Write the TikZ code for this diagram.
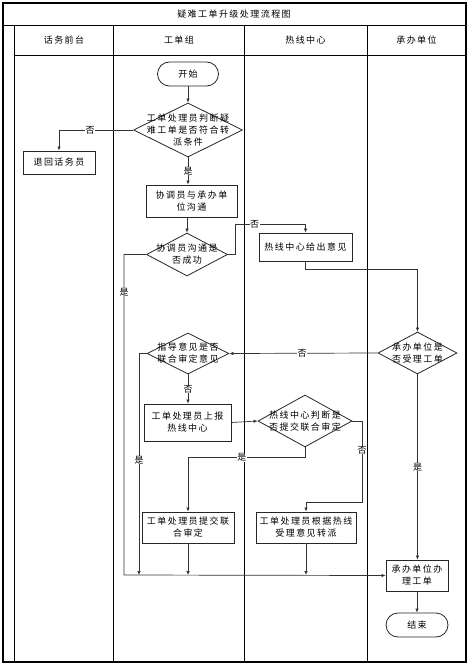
\documentclass[tikz,border=0pt]{standalone}
\usepackage{fontspec}
\newfontfamily\cjk{Noto Sans CJK SC}[LetterSpace=16]
\usetikzlibrary{shapes.geometric,arrows.meta,calc}
\begin{document}
\begin{tikzpicture}[x=1pt,y=-1pt,
  every node/.style={font=\cjk\fontsize{9}{12}\selectfont},
  frame/.style={line width=1.1pt,black},
  lane/.style={line width=0.9pt,black},
  proc/.style={draw=black!85,line width=0.8pt,rectangle,inner sep=0pt,align=center},
  term/.style={draw=black!85,line width=0.8pt,rectangle,rounded corners=12pt,inner sep=0pt,align=center},
  dec/.style={draw=black!85,line width=0.8pt,diamond,inner sep=0pt},
  dtext/.style={inner sep=0pt,align=center},
  conn/.style={draw=black!80,line width=0.7pt},
  arr/.style={conn,-{Latex[length=4pt,width=3.5pt]}},
  lab/.style={fill=white,inner sep=0.5pt}]
\useasboundingbox (0,0) rectangle (471,666);
% frame
\draw[frame] (3,3) rectangle (466,662);
\draw[lane] (3,25) -- (466,25);
\draw[lane] (14.7,25) -- (14.7,662);
\draw[lane] (14.7,55) -- (466,55);
\draw[lane] (113,25) -- (113,662);
\draw[lane] (244,25) -- (244,662);
\draw[lane] (367,25) -- (367,662);
\node (title) at (234,14) {疑难工单升级处理流程图};
\node (h1) at (64,40) {话务前台};
\node (h2) at (179,40) {工单组};
\node (h3) at (305.5,40) {热线中心};
\node (h4) at (416.5,40) {承办单位};
% nodes
\node[term,minimum width=61pt,minimum height=24pt] (start) at (188,74) {开始};
\node[dec,minimum width=109pt,minimum height=54pt] (d1) at (188,130) {};
\node[dtext] (d1t) at (d1) {工单处理员判断疑\\难工单是否符合转\\派条件};
\node[proc,minimum width=72pt,minimum height=23pt] (r1) at (59,162.5) {退回话务员};
\node[proc,minimum width=91pt,minimum height=32pt] (b1) at (191.5,201) {协调员与承办单\\位沟通};
\node[dec,minimum width=81pt,minimum height=43pt] (d2) at (187,254.5) {};
\node[dtext] (d2t) at (d2) {协调员沟通是\\否成功};
\node[proc,minimum width=93pt,minimum height=28pt] (b2) at (305.5,247) {热线中心给出意见};
\node[dec,minimum width=79pt,minimum height=42pt] (d3) at (417.5,353) {};
\node[dtext] (d3t) at (d3) {承办单位是\\否受理工单};
\node[dec,minimum width=82pt,minimum height=41pt] (d4) at (188,353.5) {};
\node[dtext] (d4t) at (d4) {指导意见是否\\联合审定意见};
\node[proc,minimum width=87pt,minimum height=37pt] (b3) at (187.5,422.5) {工单处理员上报\\热线中心};
\node[dec,minimum width=94pt,minimum height=52pt] (d5) at (305,421) {};
\node[dtext] (d5t) at (d5) {热线中心判断是\\否提交联合审定};
\node[proc,minimum width=92pt,minimum height=31pt] (b4) at (188,527.5) {工单处理员提交联\\合审定};
\node[proc,minimum width=100pt,minimum height=31pt] (b5) at (306,527.5) {工单处理员根据热线\\受理意见转派};
\node[proc,minimum width=62pt,minimum height=31pt] (b7) at (417,575.5) {承办单位办\\理工单};
\node[term,minimum width=62pt,minimum height=24pt] (end) at (417,625) {结束};
% helper coordinates
\coordinate (c1) at (235,224);
\coordinate (c2) at (124,575);
\coordinate (c3) at (139,575);
\coordinate (c4) at (188,575);
\coordinate (c5) at (306,575);
\coordinate (c6) at (362,502);
% connectors
\draw[arr] (start.south) -- (d1.north);
\draw[arr] (d1.west) -| (r1.north) node[lab,pos=0.29] {否};
\draw[arr] (d1.south) -- (d1.south |- b1.north) node[lab,midway] {是};
\draw[arr] (b1.south -| d2.north) -- (d2.north);
\draw[arr] (d2.east) -| (c1) -| (b2.north) node[lab,pos=0.14] {否};
\draw[arr] (b2.south) -- ++(0,8) -| (d3.north);
\draw[arr] (d3.west) -- (d4.east) node[lab,pos=0.51] {否};
\draw[arr] (d2.west) -| (c2) -- (b7.west);
\node[lab] (l1) at (124,292) {是};
\draw[arr] (d4.west) -| (c3);
\node[lab] (l2) at (139,460) {是};
\draw[arr] (d4.south) -- (d4.south |- b3.north) node[lab,midway] {否};
\draw[arr] (b3.east) -- (d5.west);
\draw[arr] (d5.south) -- ++(0,10) -| (b4.north) node[lab,pos=0.27] {是};
\draw[arr] (d5.east) -| (c6) -| (b5.north);
\node[lab] (l3) at (362,450) {否};
\draw[arr] (b4.south) -- (c4);
\draw[arr] (b5.south) -- (c5);
\draw[arr] (d3.south) -- (d3.south |- b7.north) node[lab,pos=0.5] {是};
\draw[arr] (b7.south) -- (end.north);
\end{tikzpicture}
\end{document}
